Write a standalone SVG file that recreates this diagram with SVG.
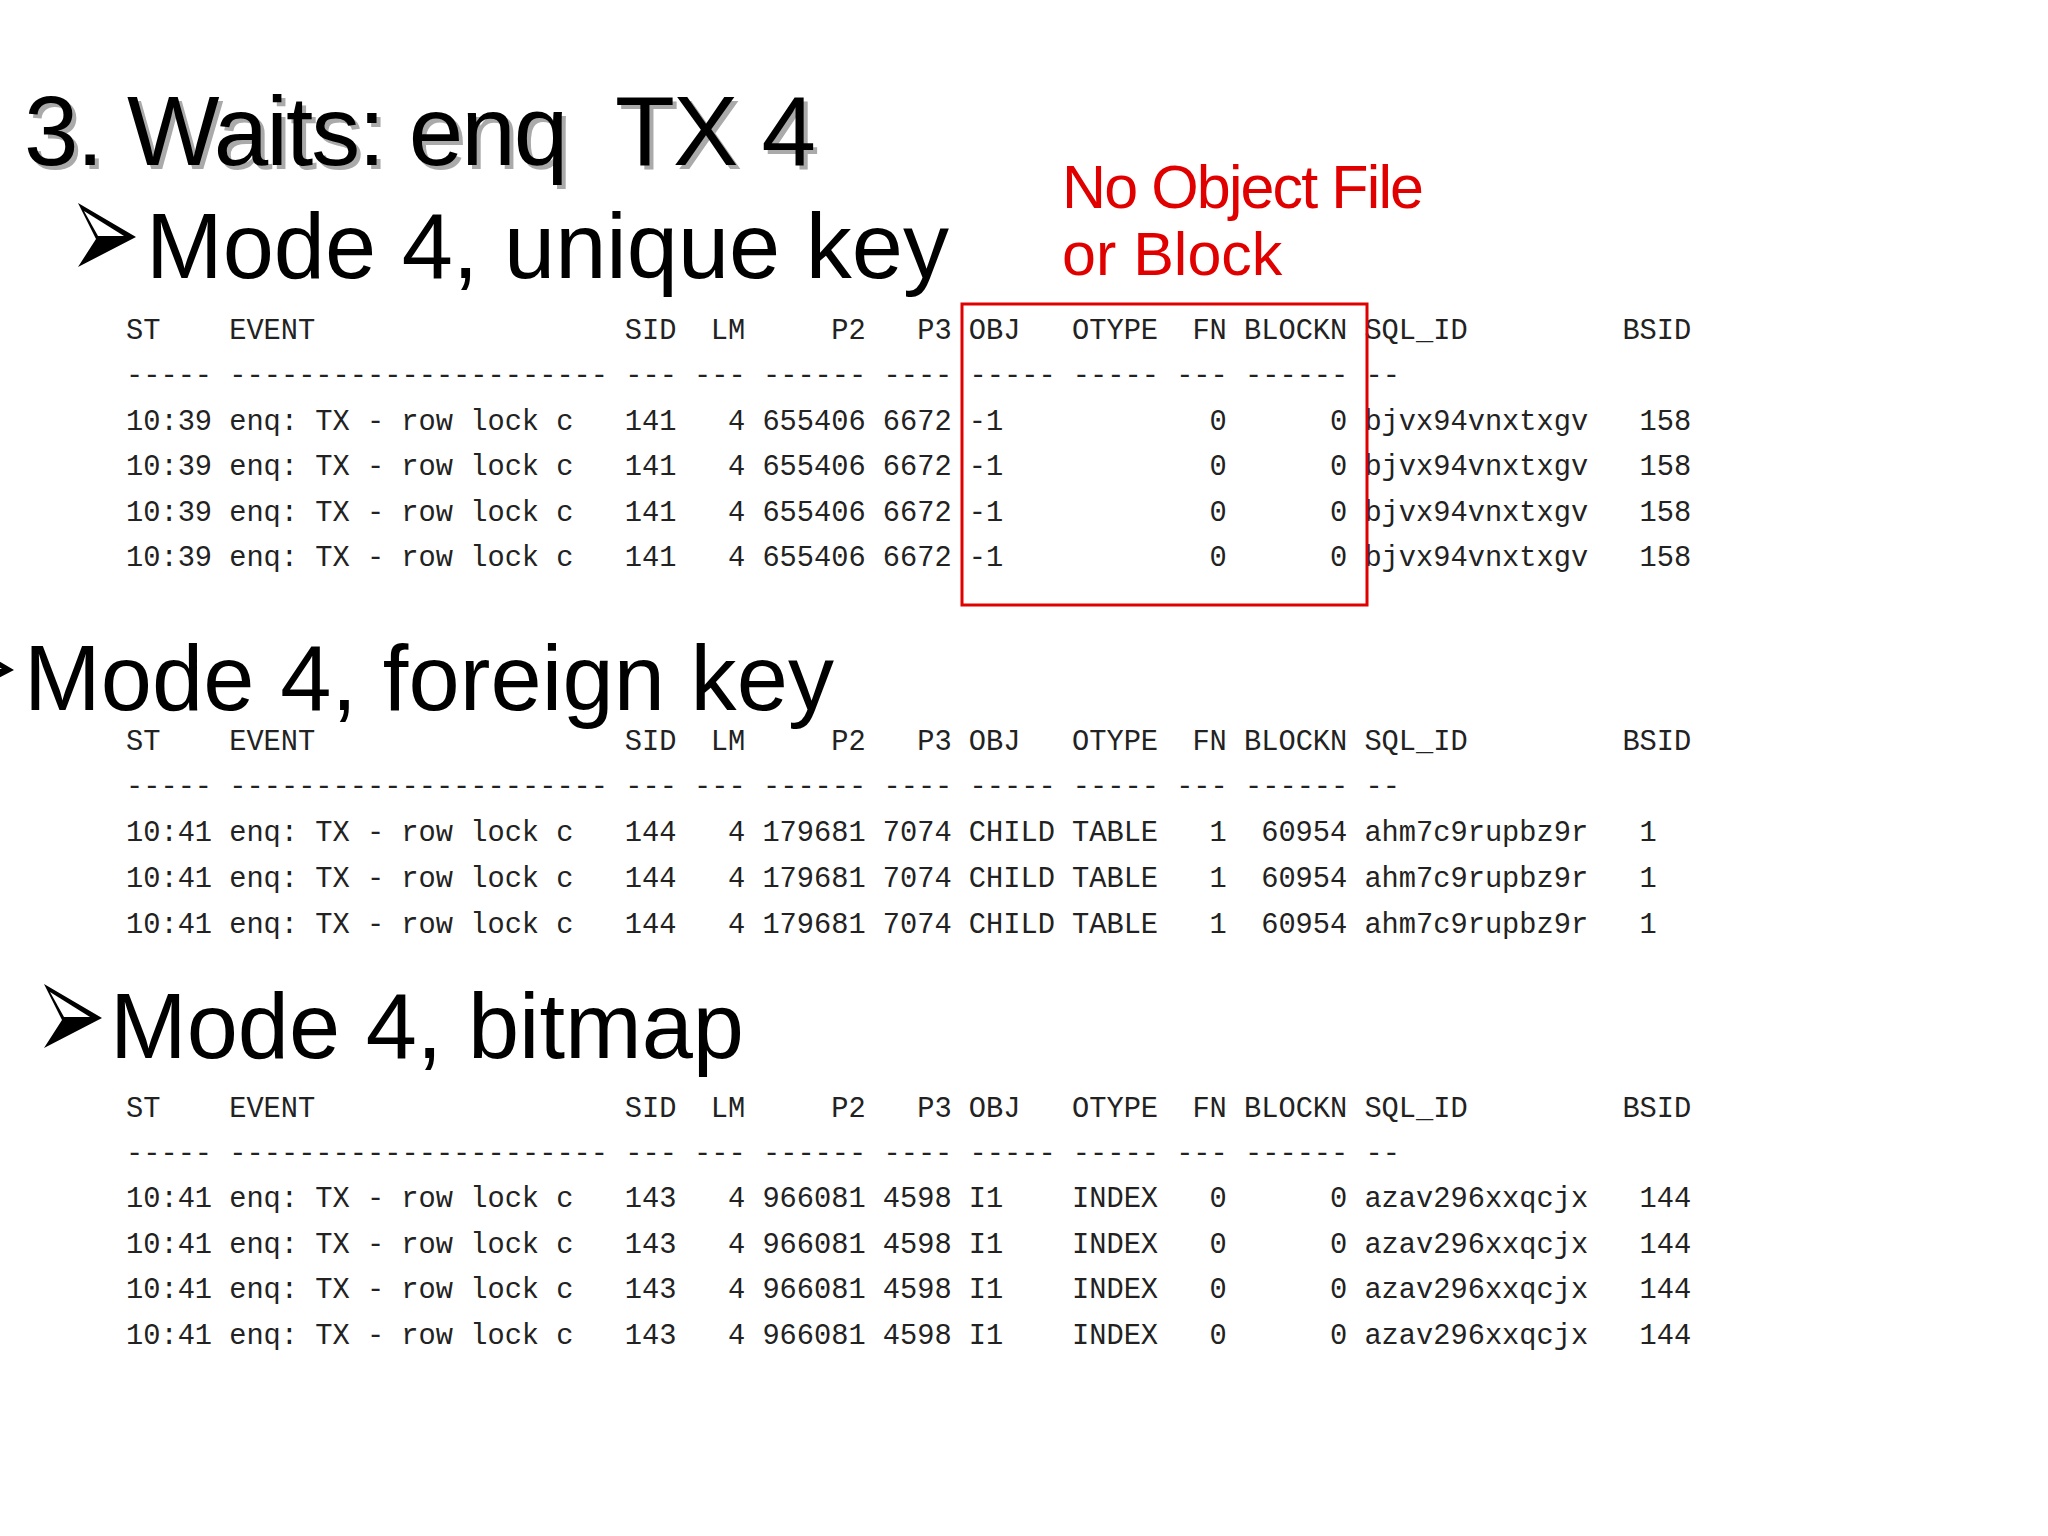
<svg xmlns="http://www.w3.org/2000/svg" width="2048" height="1536" viewBox="0 0 2048 1536" xml:space="preserve">
<style>
.m{font-family:"Liberation Mono","Courier New",monospace;font-size:28.7px;fill:#222}
.h{font-family:"Liberation Sans",Arial,sans-serif;fill:#000;white-space:pre}
.r{font-family:"Liberation Sans",Arial,sans-serif;fill:#e00000;font-size:61px}
</style>
<defs>
<g id="bul"><polygon points="0,0 58,34 0,64 18,36" fill="#000"/><polygon points="6,8 46,33 20,33" fill="#fff"/></g>
</defs>
<rect width="2048" height="1536" fill="#fff"/>
<g id="title">
<text class="h" x="28" y="169" font-size="98" textLength="792" style="fill:#aaa">3. Waits: enq  TX 4</text>
<text class="h" x="24" y="165" font-size="98" textLength="792">3. Waits: enq  TX 4</text>
</g>
<g id="sec1">
<use href="#bul" x="78" y="203"/>
<text class="h" x="146" y="278" font-size="92" textLength="803">Mode 4, unique key</text>
<g class="m">
<text y="339"><tspan x="126">ST</tspan><tspan x="229.2">EVENT</tspan><tspan x="624.8">SID</tspan><tspan x="710.8">LM</tspan><tspan x="831.2">P2</tspan><tspan x="917.2">P3</tspan><tspan x="968.8">OBJ</tspan><tspan x="1072">OTYPE</tspan><tspan x="1192.4">FN</tspan><tspan x="1244">BLOCKN</tspan><tspan x="1364.4">SQL_ID</tspan><tspan x="1622.4">BSID</tspan></text>
<text x="126" y="384">----- ---------------------- --- --- ------ ---- ----- ----- --- ------ --</text>
<text y="430"><tspan x="126">10:39</tspan><tspan x="229.2">enq: TX - row lock c</tspan><tspan x="624.8">141</tspan><tspan x="728">4</tspan><tspan x="762.4">655406</tspan><tspan x="882.8">6672</tspan><tspan x="968.8">-1</tspan><tspan x="1209.6">0</tspan><tspan x="1330">0</tspan><tspan x="1364.4">bjvx94vnxtxgv</tspan><tspan x="1639.6">158</tspan></text>
<text y="475"><tspan x="126">10:39</tspan><tspan x="229.2">enq: TX - row lock c</tspan><tspan x="624.8">141</tspan><tspan x="728">4</tspan><tspan x="762.4">655406</tspan><tspan x="882.8">6672</tspan><tspan x="968.8">-1</tspan><tspan x="1209.6">0</tspan><tspan x="1330">0</tspan><tspan x="1364.4">bjvx94vnxtxgv</tspan><tspan x="1639.6">158</tspan></text>
<text y="521"><tspan x="126">10:39</tspan><tspan x="229.2">enq: TX - row lock c</tspan><tspan x="624.8">141</tspan><tspan x="728">4</tspan><tspan x="762.4">655406</tspan><tspan x="882.8">6672</tspan><tspan x="968.8">-1</tspan><tspan x="1209.6">0</tspan><tspan x="1330">0</tspan><tspan x="1364.4">bjvx94vnxtxgv</tspan><tspan x="1639.6">158</tspan></text>
<text y="566"><tspan x="126">10:39</tspan><tspan x="229.2">enq: TX - row lock c</tspan><tspan x="624.8">141</tspan><tspan x="728">4</tspan><tspan x="762.4">655406</tspan><tspan x="882.8">6672</tspan><tspan x="968.8">-1</tspan><tspan x="1209.6">0</tspan><tspan x="1330">0</tspan><tspan x="1364.4">bjvx94vnxtxgv</tspan><tspan x="1639.6">158</tspan></text>
</g>
</g>
<g id="note">
<text class="r" x="1062" y="208" textLength="362">No Object File</text>
<text class="r" x="1062" y="275">or Block</text>
<rect x="962" y="304" width="405" height="301" fill="none" stroke="#e00000" stroke-width="3"/>
</g>
<g id="sec2">
<use href="#bul" x="-44" y="636"/>
<text class="h" x="24" y="710" font-size="92" textLength="810">Mode 4, foreign key</text>
<g class="m">
<text y="750"><tspan x="126">ST</tspan><tspan x="229.2">EVENT</tspan><tspan x="624.8">SID</tspan><tspan x="710.8">LM</tspan><tspan x="831.2">P2</tspan><tspan x="917.2">P3</tspan><tspan x="968.8">OBJ</tspan><tspan x="1072">OTYPE</tspan><tspan x="1192.4">FN</tspan><tspan x="1244">BLOCKN</tspan><tspan x="1364.4">SQL_ID</tspan><tspan x="1622.4">BSID</tspan></text>
<text x="126" y="795">----- ---------------------- --- --- ------ ---- ----- ----- --- ------ --</text>
<text y="841"><tspan x="126">10:41</tspan><tspan x="229.2">enq: TX - row lock c</tspan><tspan x="624.8">144</tspan><tspan x="728">4</tspan><tspan x="762.4">179681</tspan><tspan x="882.8">7074</tspan><tspan x="968.8">CHILD</tspan><tspan x="1072">TABLE</tspan><tspan x="1209.6">1</tspan><tspan x="1261.2">60954</tspan><tspan x="1364.4">ahm7c9rupbz9r</tspan><tspan x="1639.6">1</tspan></text>
<text y="887"><tspan x="126">10:41</tspan><tspan x="229.2">enq: TX - row lock c</tspan><tspan x="624.8">144</tspan><tspan x="728">4</tspan><tspan x="762.4">179681</tspan><tspan x="882.8">7074</tspan><tspan x="968.8">CHILD</tspan><tspan x="1072">TABLE</tspan><tspan x="1209.6">1</tspan><tspan x="1261.2">60954</tspan><tspan x="1364.4">ahm7c9rupbz9r</tspan><tspan x="1639.6">1</tspan></text>
<text y="933"><tspan x="126">10:41</tspan><tspan x="229.2">enq: TX - row lock c</tspan><tspan x="624.8">144</tspan><tspan x="728">4</tspan><tspan x="762.4">179681</tspan><tspan x="882.8">7074</tspan><tspan x="968.8">CHILD</tspan><tspan x="1072">TABLE</tspan><tspan x="1209.6">1</tspan><tspan x="1261.2">60954</tspan><tspan x="1364.4">ahm7c9rupbz9r</tspan><tspan x="1639.6">1</tspan></text>
</g>
</g>
<g id="sec3">
<use href="#bul" x="44" y="984"/>
<text class="h" x="110" y="1058" font-size="92" textLength="634">Mode 4, bitmap</text>
<g class="m">
<text y="1117"><tspan x="126">ST</tspan><tspan x="229.2">EVENT</tspan><tspan x="624.8">SID</tspan><tspan x="710.8">LM</tspan><tspan x="831.2">P2</tspan><tspan x="917.2">P3</tspan><tspan x="968.8">OBJ</tspan><tspan x="1072">OTYPE</tspan><tspan x="1192.4">FN</tspan><tspan x="1244">BLOCKN</tspan><tspan x="1364.4">SQL_ID</tspan><tspan x="1622.4">BSID</tspan></text>
<text x="126" y="1162">----- ---------------------- --- --- ------ ---- ----- ----- --- ------ --</text>
<text y="1207"><tspan x="126">10:41</tspan><tspan x="229.2">enq: TX - row lock c</tspan><tspan x="624.8">143</tspan><tspan x="728">4</tspan><tspan x="762.4">966081</tspan><tspan x="882.8">4598</tspan><tspan x="968.8">I1</tspan><tspan x="1072">INDEX</tspan><tspan x="1209.6">0</tspan><tspan x="1330">0</tspan><tspan x="1364.4">azav296xxqcjx</tspan><tspan x="1639.6">144</tspan></text>
<text y="1253"><tspan x="126">10:41</tspan><tspan x="229.2">enq: TX - row lock c</tspan><tspan x="624.8">143</tspan><tspan x="728">4</tspan><tspan x="762.4">966081</tspan><tspan x="882.8">4598</tspan><tspan x="968.8">I1</tspan><tspan x="1072">INDEX</tspan><tspan x="1209.6">0</tspan><tspan x="1330">0</tspan><tspan x="1364.4">azav296xxqcjx</tspan><tspan x="1639.6">144</tspan></text>
<text y="1298"><tspan x="126">10:41</tspan><tspan x="229.2">enq: TX - row lock c</tspan><tspan x="624.8">143</tspan><tspan x="728">4</tspan><tspan x="762.4">966081</tspan><tspan x="882.8">4598</tspan><tspan x="968.8">I1</tspan><tspan x="1072">INDEX</tspan><tspan x="1209.6">0</tspan><tspan x="1330">0</tspan><tspan x="1364.4">azav296xxqcjx</tspan><tspan x="1639.6">144</tspan></text>
<text y="1344"><tspan x="126">10:41</tspan><tspan x="229.2">enq: TX - row lock c</tspan><tspan x="624.8">143</tspan><tspan x="728">4</tspan><tspan x="762.4">966081</tspan><tspan x="882.8">4598</tspan><tspan x="968.8">I1</tspan><tspan x="1072">INDEX</tspan><tspan x="1209.6">0</tspan><tspan x="1330">0</tspan><tspan x="1364.4">azav296xxqcjx</tspan><tspan x="1639.6">144</tspan></text>
</g>
</g>
</svg>
